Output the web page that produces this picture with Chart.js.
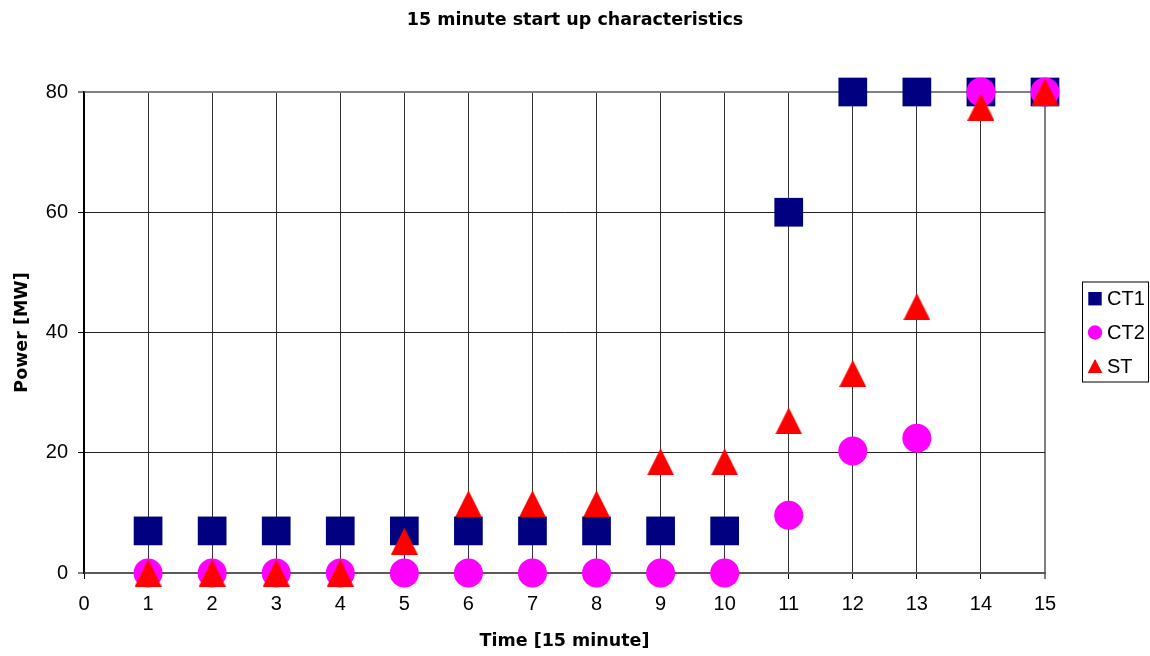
<!DOCTYPE html>
<html>
<head>
<meta charset="utf-8">
<title>15 minute start up characteristics</title>
<script src="https://cdn.jsdelivr.net/npm/chart.js@4.4.1/dist/chart.umd.min.js"></script>
<style>
  html, body { margin: 0; padding: 0; background: #fff; }
  #wrap { width: 1150px; height: 656px; }
</style>
</head>
<body>
<div id="wrap"><canvas id="startupChart" width="1150" height="656"></canvas></div>
<script>
// --- DATA ---
const timeSteps = [1, 2, 3, 4, 5, 6, 7, 8, 9, 10, 11, 12, 13, 14, 15];
const ct1Power = [7, 7, 7, 7, 7, 7, 7, 7, 7, 7, 60, 80, 80, 80, 80];
const ct2Power = [0, 0, 0, 0, 0, 0, 0, 0, 0, 0, 9.6, 20.3, 22.4, 80, 80];
const stPower  = [0, 0, 0, 0, 5.3, 11.5, 11.5, 11.5, 18.5, 18.5, 25.3, 33.2, 44.3, 77.5, 80];
const seriesNames = ['CT1', 'CT2', 'ST'];

const BASE_FONT = "'Liberation Sans', Arial, sans-serif";
const BOLD_FONT = "'DejaVu Sans', 'Liberation Sans', Arial, sans-serif";

// Excel style triangle (centered on its box, not on its centroid)
function makeTriangle(w, h, color) {
    const c = document.createElement('canvas');
    c.width = w; c.height = h;
    const g = c.getContext('2d');
    g.fillStyle = color;
    g.beginPath();
    g.moveTo(w / 2, 0);
    g.lineTo(w, h);
    g.lineTo(0, h);
    g.closePath();
    g.fill();
    return c;
}
const triMarker = makeTriangle(27, 27, '#ff0000');

function toPoints(values) {
    return timeSteps.map((t, i) => ({ x: t, y: values[i] }));
}

// legend drawn as an Excel style box on the right
function drawMarker(ctx, style, color, x, y) {
    ctx.fillStyle = color;
    if (style === 'rect') {
        ctx.fillRect(x - 6.7, y - 6.7, 13.4, 13.4);
    } else if (style === 'circle') {
        ctx.beginPath();
        ctx.arc(x, y, 7.2, 0, Math.PI * 2);
        ctx.fill();
    } else if (style instanceof HTMLCanvasElement) {
        ctx.drawImage(style, x - 7.5, y - 7.5, 15, 14.5);
    }
}

const legendBox = {
    id: 'legendBox',
    afterDraw(chart) {
        const ctx = chart.ctx;
        const area = chart.chartArea;
        const left = area.right + 37;
        const right = chart.width - 2;
        const midY = (area.top + area.bottom) / 2;
        const rowH = 33.8;
        const n = chart.data.datasets.length;
        ctx.save();
        ctx.strokeStyle = '#000';
        ctx.lineWidth = 1;
        ctx.strokeRect(left + 0.5, midY - 50.5, right - left, 100);
        ctx.font = '20px ' + BASE_FONT;
        ctx.textBaseline = 'middle';
        chart.data.datasets.forEach((ds, i) => {
            const y = midY + (i - (n - 1) / 2) * rowH;
            drawMarker(ctx, ds.pointStyle, ds.backgroundColor, left + 13, y);
            ctx.fillStyle = '#000';
            ctx.fillText(ds.label, left + 25, y + 1);
        });
        ctx.restore();
    }
};

Chart.defaults.color = '#000';
Chart.defaults.font.family = BASE_FONT;

const ctx = document.getElementById('startupChart').getContext('2d');
const chart = new Chart(ctx, {
    type: 'scatter',
    data: {
        datasets: [
            { label: seriesNames[0], data: toPoints(ct1Power), pointStyle: 'rect', pointRadius: 20.3,
              backgroundColor: '#000080', borderColor: '#000080', borderWidth: 0, order: 3, clip: false },
            { label: seriesNames[1], data: toPoints(ct2Power), pointStyle: 'circle', pointRadius: 14.5,
              backgroundColor: '#ff00ff', borderColor: '#ff00ff', borderWidth: 0, order: 2, clip: false },
            { label: seriesNames[2], data: toPoints(stPower), pointStyle: triMarker, pointRadius: 14,
              backgroundColor: '#ff0000', borderColor: '#ff0000', borderWidth: 0, order: 1, clip: false }
        ]
    },
    options: {
        responsive: false,
        animation: false,
        layout: { padding: 0 },
        plugins: {
            legend: { display: false },
            tooltip: { enabled: false },
            title: {
                display: true,
                text: '15 minute start up characteristics',
                color: '#000',
                font: { family: BOLD_FONT, size: 17.5, weight: 'bold', lineHeight: 1.2 },
                padding: { top: 9.5, bottom: 61.5 }
            }
        },
        scales: {
            x: {
                type: 'linear',
                min: 0, max: 15,
                afterFit: s => { s.height = 83; },
                ticks: { stepSize: 1, padding: 13, font: { size: 20 }, color: '#000', maxRotation: 0 },
                grid: {
                    color: c => c.tick && c.tick.value === 15 ? '#808080' : (c.tick && c.tick.value === 0 ? '#000' : '#333'),
                    lineWidth: c => c.tick && c.tick.value === 15 ? 2 : 1,
                    tickColor: '#000', tickWidth: 1, tickLength: 6
                },
                border: { color: '#5a5a5a', width: 2 },
                title: {
                    display: true, text: 'Time [15 minute]', color: '#000',
                    font: { family: BOLD_FONT, size: 17.5, weight: 'bold', lineHeight: 1.2 },
                    padding: { top: 0, bottom: 4.5 }
                }
            },
            y: {
                min: 0, max: 80,
                afterFit: s => { s.width = 84; },
                ticks: { stepSize: 20, padding: 10, font: { size: 20 }, color: '#000' },
                grid: {
                    color: c => c.tick && c.tick.value === 80 ? '#808080' : (c.tick && c.tick.value === 0 ? '#5a5a5a' : '#222'),
                    lineWidth: c => c.tick && (c.tick.value === 80 || c.tick.value === 0) ? 2 : 1,
                    tickColor: '#000', tickWidth: 1, tickLength: 6
                },
                border: { color: '#000', width: 1.5 },
                title: {
                    display: true, text: 'Power [MW]', color: '#000',
                    font: { family: BOLD_FONT, size: 17.5, weight: 'bold', lineHeight: 1.2 },
                    padding: { top: 11.5, bottom: 0 }
                }
            },
            // empty right-hand strip that holds the legend box
            legendSpace: {
                type: 'linear',
                position: 'right',
                display: true,
                afterFit: s => { s.width = 105; },
                ticks: { display: false },
                grid: { display: false },
                border: { display: false }
            }
        }
    },
    plugins: [legendBox]
});
</script>
</body>
</html>
